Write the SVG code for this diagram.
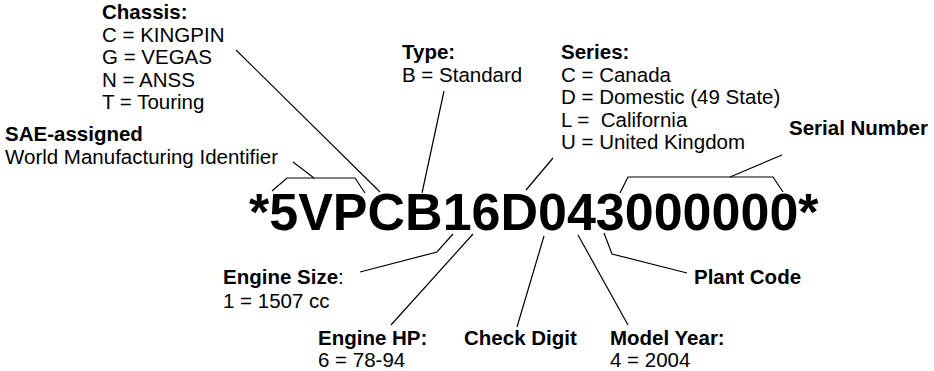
<svg xmlns="http://www.w3.org/2000/svg" width="934" height="371" viewBox="0 0 934 371">
<style>
text{font-family:"Liberation Sans",Arial,Helvetica,sans-serif;font-size:20.5px;fill:#000;white-space:pre}
.b{font-weight:bold}
.n{font-weight:normal}
.vin{font-weight:bold;font-size:52px}
.ln{fill:none;stroke:#000;stroke-width:1.2}
</style>
<rect width="934" height="371" fill="#fff"/>
<g id="vin"><text class="vin" x="249" y="230">*5VPCB16D043000000*</text></g>
<g id="chassis">
<text class="b" x="102" y="19">Chassis:</text>
<text x="102" y="41.5">C = KINGPIN</text>
<text x="102" y="64">G = VEGAS</text>
<text x="102" y="86.5">N = ANSS</text>
<text x="102" y="108.5">T = Touring</text>
</g>
<g id="wmi">
<text class="b" x="5" y="141">SAE-assigned</text>
<text x="5" y="164">World Manufacturing Identifier</text>
</g>
<g id="type">
<text class="b" x="402" y="59">Type:</text>
<text x="402" y="82">B = Standard</text>
</g>
<g id="series">
<text class="b" x="561" y="59">Series:</text>
<text x="561" y="81.5">C = Canada</text>
<text x="561" y="104">D = Domestic (49 State)</text>
<text x="561" y="126.5" xml:space="preserve">L =  California</text>
<text x="561" y="149">U = United Kingdom</text>
</g>
<g id="serial"><text class="b" x="789" y="135">Serial Number</text></g>
<g id="engine-size">
<text class="b" x="223" y="284">Engine Size<tspan class="n">:</tspan></text>
<text x="223" y="308">1 = 1507 cc</text>
</g>
<g id="engine-hp">
<text class="b" x="318" y="345">Engine HP:</text>
<text x="318" y="367">6 = 78-94</text>
</g>
<g id="check-digit"><text class="b" x="464" y="345">Check Digit</text></g>
<g id="model-year">
<text class="b" x="610" y="345">Model Year:</text>
<text x="610" y="367">4 = 2004</text>
</g>
<g id="plant-code"><text class="b" x="694" y="284">Plant Code</text></g>
<g id="connectors">
<line class="ln" x1="236" y1="50" x2="380" y2="192"/>
<polyline class="ln" points="272,191 287,178 355,178 365,193"/>
<line class="ln" x1="293" y1="162" x2="314" y2="178"/>
<line class="ln" x1="444" y1="91" x2="422" y2="193"/>
<line class="ln" x1="553" y1="158" x2="526" y2="190"/>
<polyline class="ln" points="620,193 628,177 773,177 783,192"/>
<line class="ln" x1="730" y1="177" x2="782" y2="155"/>
<polyline class="ln" points="453,234 437,252 360,272"/>
<line class="ln" x1="473" y1="234" x2="391" y2="325"/>
<line class="ln" x1="544" y1="236" x2="517" y2="327"/>
<line class="ln" x1="578" y1="235" x2="628" y2="325"/>
<polyline class="ln" points="604,233 612,254 687,273"/>
</g>
</svg>
